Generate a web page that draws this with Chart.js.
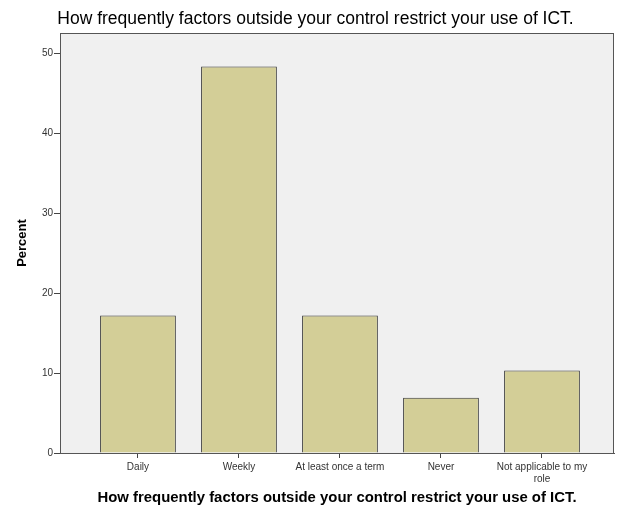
<!DOCTYPE html>
<html>
<head>
<meta charset="utf-8">
<script src="https://cdn.jsdelivr.net/npm/chart.js@4.4.1/dist/chart.umd.min.js"></script>
<style>
  html, body { margin: 0; padding: 0; background: #fff; }
  #wrap { width: 624px; height: 513px; }
</style>
</head>
<body>
<div id="wrap"><canvas id="chart" width="624" height="513"></canvas></div>
<script>
// data (percent of respondents)
const categories = ['Daily', 'Weekly', 'At least once a term', 'Never', 'Not applicable to my role'];
const tickLabels = [['Daily'], ['Weekly'], ['At least once a term'], ['Never'], ['Not applicable to my', 'role']];
const percents = [17.2, 48.3, 17.2, 6.9, 10.3];
const yTicks = [0, 10, 20, 30, 40, 50];

const titleText = 'How frequently factors outside your control restrict your use of ICT.';
const fontFam = 'Liberation Sans, Arial, sans-serif';

// grey plot background + frame, like SPSS output
const plotFrame = {
  id: 'plotFrame',
  beforeDraw(chart) {
    const a = chart.chartArea, ctx = chart.ctx;
    ctx.save();
    ctx.fillStyle = '#f0f0f0';
    ctx.fillRect(a.left, a.top, a.right - a.left, a.bottom - a.top);
    ctx.restore();
  },
  afterDraw(chart) {
    const c = chart.ctx, ar = chart.chartArea;
    c.save();
    c.strokeStyle = '#555';
    c.lineWidth = 1;
    c.strokeRect(Math.round(ar.left) + 0.5, Math.round(ar.top) + 0.5,
                 Math.round(ar.right - ar.left) - 1, Math.round(ar.bottom - ar.top));
    c.restore();
  }
};

const ctx = document.getElementById('chart');
new Chart(ctx, {
  type: 'bar',
  data: {
    datasets: [{
      label: 'Percent',
      data: percents.map((v, i) => ({ x: i, y: v })),
      backgroundColor: '#d3ce97',
      borderColor: '#333',
      borderWidth: 1,
      barPercentage: 0.75,
      categoryPercentage: 1
    }]
  },
  options: {
    responsive: false,
    animation: false,
    layout: { padding: { left: 17, right: 10, top: 0, bottom: 0 } },
    plugins: {
      legend: { display: false },
      tooltip: { enabled: false },
      title: {
        display: true,
        text: titleText,
        color: '#000',
        font: { family: fontFam, size: 17.5, weight: 'normal' },
        padding: { top: 9, bottom: 3 }
      }
    },
    scales: {
      x: {
        type: 'linear',
        offset: false,
        min: -0.772,
        max: 4.713,
        afterBuildTicks(scale) {
          scale.ticks = categories.map((c, i) => ({ value: i }));
        },
        afterFit(scale) { scale.height = 60; },
        grid: { offset: false, drawOnChartArea: false, drawTicks: true, tickLength: 5, color: '#444' },
        border: { display: true, color: '#555' },
        ticks: {
          autoSkip: false,
          maxRotation: 0,
          padding: 3,
          color: '#333',
          font: { family: fontFam, size: 10 },
          callback: (v) => tickLabels[v]
        },
        title: {
          display: true,
          text: titleText,
          color: '#000',
          font: { family: fontFam, size: 14.9, weight: 'bold' },
          padding: { top: 4, bottom: 6 }
        }
      },
      y: {
        min: 0,
        max: 52.5,
        afterBuildTicks(scale) {
          scale.ticks = yTicks.map(v => ({ value: v }));
        },
        afterFit(scale) { scale.width = 43; },
        grid: { drawOnChartArea: false, drawTicks: true, tickLength: 6, color: '#444' },
        border: { display: true, color: '#555' },
        ticks: {
          padding: 1,
          color: '#333',
          font: { family: fontFam, size: 10 }
        },
        title: {
          display: true,
          text: 'Percent',
          color: '#000',
          font: { family: fontFam, size: 13, weight: 'bold' },
          padding: { top: -2, bottom: 4 }
        }
      }
    }
  },
  plugins: [plotFrame]
});
</script>
</body>
</html>
